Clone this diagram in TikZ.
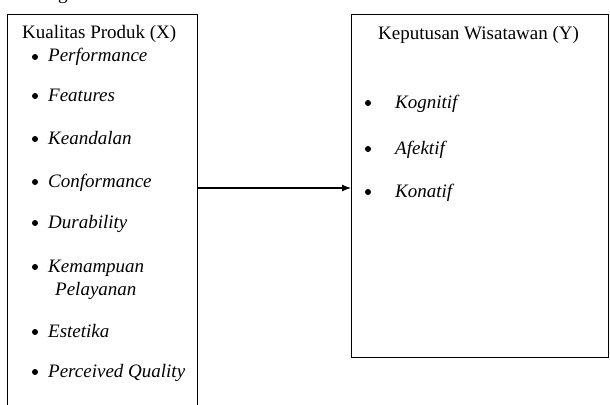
\documentclass[tikz,border=0pt]{standalone}
\usepackage{fontspec}
\setmainfont{Liberation Serif}
\usetikzlibrary{arrows.meta}
\tikzset{
  box/.style={draw, line width=1.1pt, inner sep=0pt, anchor=north west},
  head/.style={anchor=base west, inner sep=0pt, font=\fontsize{19}{22}\selectfont},
  item/.style={anchor=base west, inner sep=0pt, font=\fontsize{19}{22}\selectfont\itshape},
  dot/.style={circle, fill, inner sep=0pt, minimum size=6pt}
}
\begin{document}
\begin{tikzpicture}[x=1pt,y=-1pt]
\useasboundingbox (0,0) rectangle (610,404);
% cut-off letter above the boxes
\node[head] (cut) at (58,0) {g};
% boxes
\node[box, minimum width=190pt, minimum height=420pt] (x) at (7,14) {};
\node[box, minimum width=257pt, minimum height=343pt] (y) at (351,14) {};
% left box
\node[head] (xhead) at (22,39) {Kualitas Produk (X)};
\foreach \i/\yy/\txt in {1/62/Performance, 2/101/Features, 3/144/Keandalan,
    4/187/Conformance, 5/228/Durability, 6/272/Kemampuan, 7/337/Estetika,
    8/377/Perceived Quality}{
  \node[dot] (xd\i) at (35,\yy-5) {};
  \node[item] (xi\i) at (48,\yy) {\txt};
}
\node[item] (xi6b) at (55,295) {Pelayanan};
% right box
\node[head] (yhead) at (378,40) {Keputusan Wisatawan (Y)};
\foreach \i/\yy/\txt in {1/108/Kognitif, 2/154/Afektif, 3/197/Konatif}{
  \node[dot] (yd\i) at (368,\yy-5) {};
  \node[item] (yi\i) at (395,\yy) {\txt};
}
% arrow
\coordinate (m) at (0,188);
\draw[line width=1.1pt, -{Latex[length=9pt,width=7pt]}] (x.east |- m) -- (y.west |- m);
\end{tikzpicture}
\end{document}
